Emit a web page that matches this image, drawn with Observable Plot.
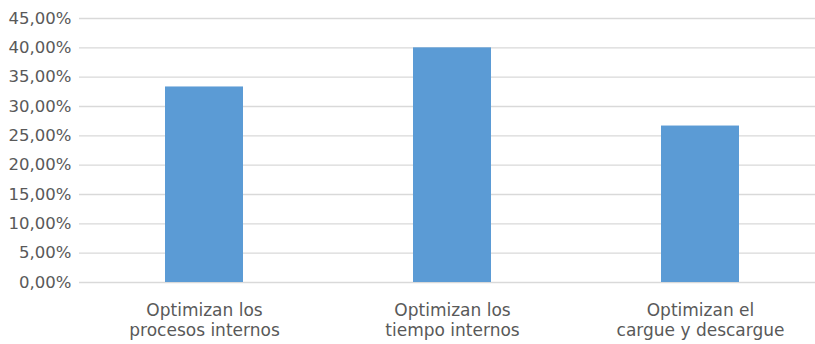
<!DOCTYPE html>
<html>
<head>
<meta charset="utf-8">
<script src="https://cdn.jsdelivr.net/npm/d3@7"></script>
<script src="https://cdn.jsdelivr.net/npm/@observablehq/plot@0.6"></script>
<style>
  html, body { margin: 0; padding: 0; background: #fff; }
  #chart svg { display: block; }
</style>
</head>
<body>
<div id="chart"></div>
<script>
// Categories (two-line labels) and their shares
const categories = [
  "Optimizan los\nprocesos internos",
  "Optimizan los\ntiempo internos",
  "Optimizan el\ncargue y descargue"
];
const shares = [0.3333, 0.4, 0.2667];
const yTicks = [0, 0.05, 0.10, 0.15, 0.20, 0.25, 0.30, 0.35, 0.40, 0.45];

const data = categories.map((c, i) => ({category: c, share: shares[i]}));

const pct = d3.format(".2f");
const fmtPct = v => pct(v * 100).replace(".", ",") + "%";

const chart = Plot.plot({
  width: 815,
  height: 344,
  marginLeft: 79,
  marginRight: 0,
  marginTop: 18,
  marginBottom: 62,
  style: {fontFamily: "'DejaVu Sans', sans-serif", fontSize: "16.5px", color: "#595959", background: "#fff"},
  x: {domain: categories, range: [79.25, 824.75], paddingInner: 0.686, paddingOuter: 0.343, align: 0.5},
  y: {domain: [0, 0.45]},
  marks: [
    Plot.gridY(yTicks, {stroke: "#d9d9d9", strokeOpacity: 1, strokeWidth: 1.3}),
    Plot.barY(data, {x: "category", y: "share", fill: "#5b9bd5"}),
    Plot.axisY(yTicks, {tickSize: 0, tickPadding: 8, tickFormat: fmtPct, fill: "#595959", fontSize: 16.5, label: null}),
    Plot.axisX({tickSize: 0, tickPadding: 19, fill: "#595959", fontSize: 17, lineHeight: 1.2, label: null})
  ]
});

document.getElementById("chart").appendChild(chart);
</script>
</body>
</html>
